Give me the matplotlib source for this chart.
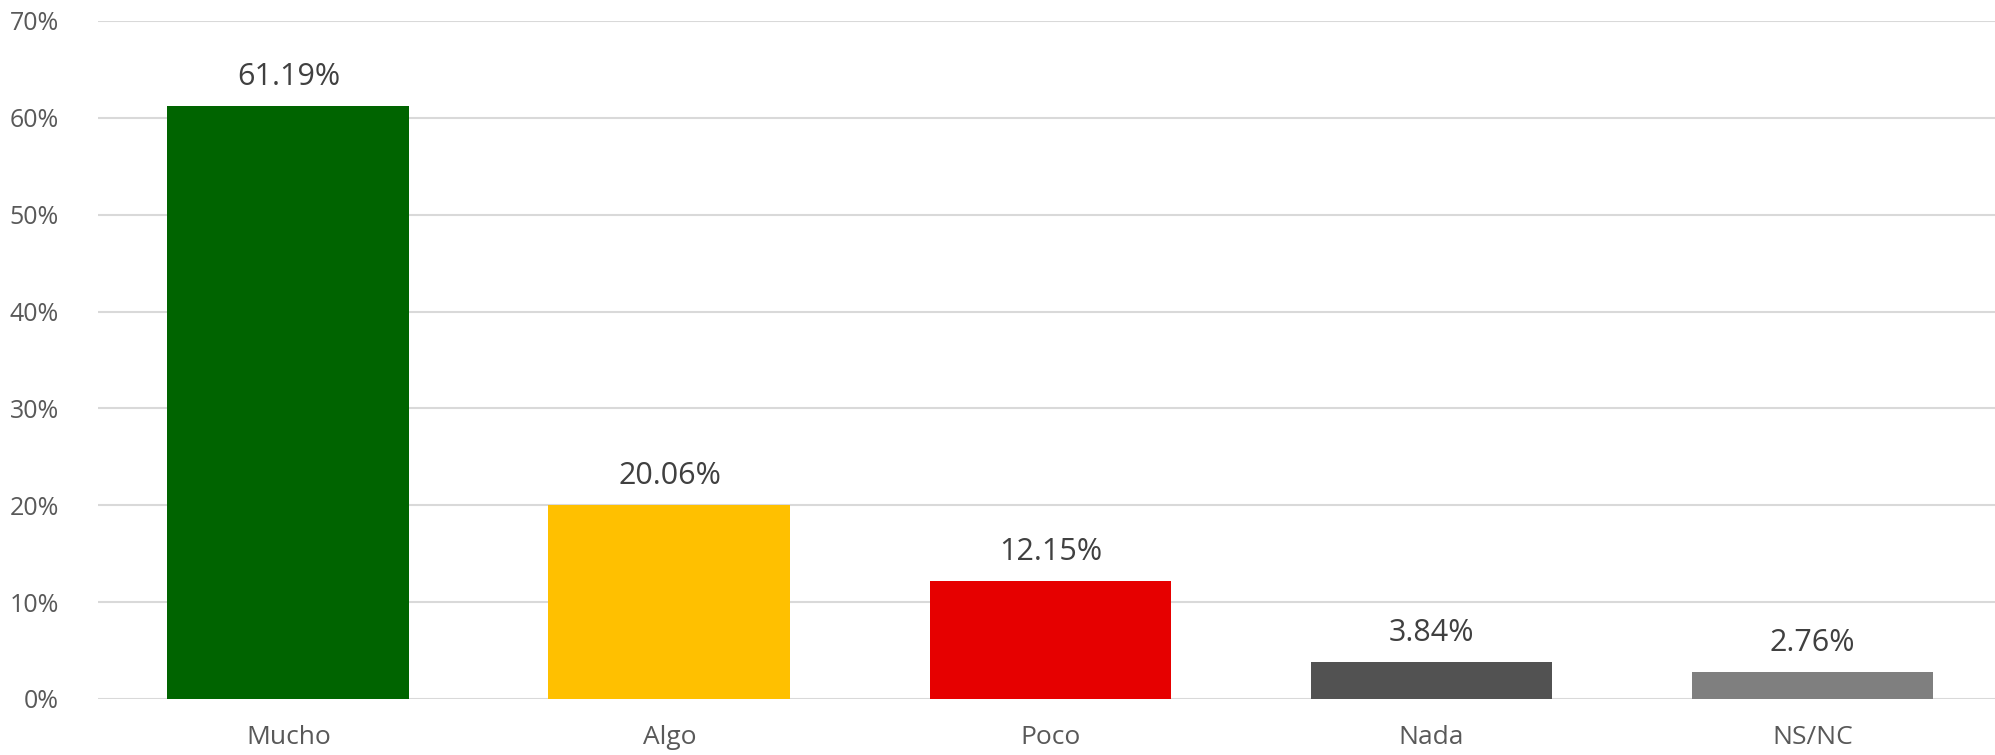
import matplotlib.pyplot as plt
from matplotlib.ticker import MultipleLocator, FuncFormatter

# Data
categories = ["Mucho", "Algo", "Poco", "Nada", "NS/NC"]
values = [61.19, 20.06, 12.15, 3.84, 2.76]
colors = ["#006400", "#FFC000", "#E60000", "#525252", "#7F7F7F"]

fig = plt.figure(figsize=(19.95, 7.55), dpi=100)
ax = fig.add_axes([0.0491, 0.0742, 0.9509, 0.898])

x = range(len(categories))
bars = ax.bar(x, values, width=0.635, color=colors, zorder=3)

# Value labels above bars
for b, v in zip(bars, values):
    ax.annotate(f"{v:.2f}%", (b.get_x() + b.get_width() / 2, v),
                xytext=(0, 10), textcoords="offset points",
                ha="center", va="bottom", fontsize=22,
                family="Open Sans", color="#404040")

ax.set_ylim(0, 70)
ax.set_xlim(-0.5, 4.5 - 8 / 381)
ax.yaxis.set_major_locator(MultipleLocator(10))
ax.yaxis.set_major_formatter(FuncFormatter(lambda v, p: f"{v:.0f}%"))
ax.grid(axis="y", color="#D9D9D9", linewidth=1.5, zorder=0)

ax.set_xticks(list(x))
ax.set_xticklabels(categories, family="Open Sans", fontsize=19, color="#595959")
for lbl in ax.get_yticklabels():
    lbl.set_family("Open Sans")
    lbl.set_fontsize(18)
    lbl.set_color("#595959")
ax.tick_params(axis="y", length=0, pad=28)
ax.tick_params(axis="x", length=0, pad=19)

for s in ax.spines.values():
    s.set_visible(False)

fig.savefig("out.png", dpi=100)
